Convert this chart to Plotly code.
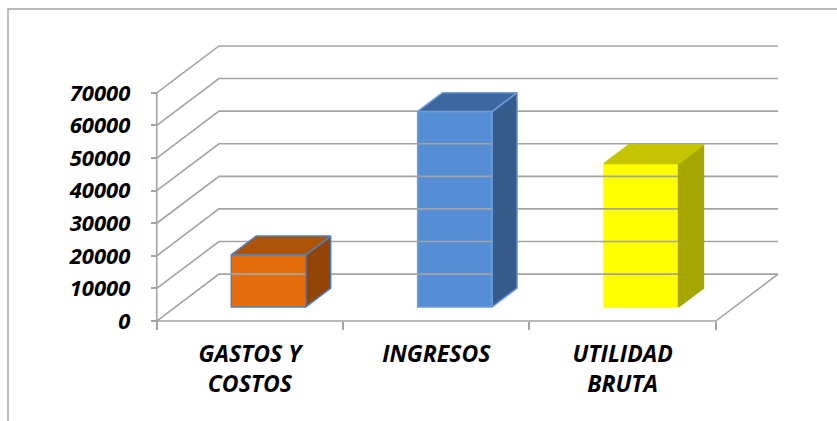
import plotly.graph_objects as go

# ---- data ----
categories = ["GASTOS Y<br>COSTOS", "INGRESOS", "UTILIDAD<br>BRUTA"]
values = [16000, 60000, 44000]
y_ticks = [0, 10000, 20000, 30000, 40000, 50000, 60000, 70000]
y_tick_labels = [str(v) for v in y_ticks]

front_colors = ["#E46C0A", "#558ED5", "#FFFF00"]
top_colors = ["#AD5307", "#3C689F", "#C4C400"]
side_colors = ["#924405", "#345B8A", "#A6A600"]
edge_colors = ["#4F81BD", "#6C9BD9", "#FFFF00"]

# ---- oblique projection (depth offset in data units) ----
DX = 0.334      # horizontal depth offset in category units
DY = 14400      # vertical depth offset in value units
F1, F2 = 0.3, 0.7   # bar front / back depth fraction
HW = 0.2            # half bar width (category units)
GRID = "#A3A3A3"
YMAX = 85000
YMIN = -600
XMIN, XMAX = -0.02, 3.35


def proj(x, y, f):
    return x + f * DX, y + f * DY


fig = go.Figure()

# gridlines: back wall + left wall diagonals
n = len(categories)
for v in y_ticks:
    x0, y0 = proj(0, v, 1)
    x1, y1 = proj(n, v, 1)
    fig.add_trace(go.Scatter(x=[0, x0, x1], y=[v, y0, y1], mode="lines",
                             line=dict(color=GRID, width=1.6), hoverinfo="skip", showlegend=False))
# front y axis line
fig.add_trace(go.Scatter(x=[0, 0], y=[0, y_ticks[-1]], mode="lines",
                         line=dict(color=GRID, width=1.6), hoverinfo="skip", showlegend=False))
# floor front edge and right diagonal
bx, by = proj(n, 0, 1)
fig.add_trace(go.Scatter(x=[0, n, bx], y=[0, 0, by], mode="lines",
                         line=dict(color=GRID, width=1.6), hoverinfo="skip", showlegend=False))

# bars: front face
centers = [i + 0.5 for i in range(n)]
fig.add_trace(go.Bar(
    x=[c + F1 * DX for c in centers], y=values, base=[F1 * DY] * n, width=2 * HW,
    marker=dict(color=front_colors, line=dict(color=edge_colors, width=1.5)),
    hoverinfo="skip", showlegend=False))

# bars: top and side faces
for c, v, tc, sc, ec in zip(centers, values, top_colors, side_colors, edge_colors):
    top = [proj(c - HW, v, F1), proj(c + HW, v, F1), proj(c + HW, v, F2), proj(c - HW, v, F2)]
    side = [proj(c + HW, 0, F1), proj(c + HW, v, F1), proj(c + HW, v, F2), proj(c + HW, 0, F2)]
    for pts, col in ((side, sc), (top, tc)):
        xs = [p[0] for p in pts] + [pts[0][0]]
        ys = [p[1] for p in pts] + [pts[0][1]]
        fig.add_trace(go.Scatter(x=xs, y=ys, mode="lines", fill="toself", fillcolor=col,
                                 line=dict(color=ec if ec != "#FFFF00" else col, width=1.5),
                                 hoverinfo="skip", showlegend=False))

font_y = dict(family="Open Sans", size=22, color="#000000", weight="bold", style="italic")
font_x = dict(family="Open Sans", size=23, color="#000000", weight="bold", style="italic")

fig.update_layout(
    width=837, height=421,
    margin=dict(l=153, r=56, t=44, b=98),
    paper_bgcolor="white", plot_bgcolor="white",
    xaxis=dict(range=[XMIN, XMAX], showgrid=False, zeroline=False, showline=False,
               tickmode="array", tickvals=centers, ticktext=categories, ticks="",
               tickfont=font_x, ticklabelstandoff=17,
               anchor="free", position=(0 - YMIN) / (YMAX - YMIN),
               minor=dict(tickmode="array", tickvals=list(range(n + 1)), ticks="outside",
                          ticklen=8, tickwidth=1.6, tickcolor=GRID, showgrid=False)),
    yaxis=dict(range=[YMIN, YMAX], showgrid=False, zeroline=False, showline=False,
               tickmode="array", tickvals=y_ticks, ticktext=y_tick_labels,
               ticks="outside", ticklen=6, tickwidth=1.6, tickcolor=GRID,
               ticklabelstandoff=16, tickfont=font_y,
               anchor="free", position=(0 - XMIN) / (XMAX - XMIN)),
    shapes=[dict(type="rect", xref="paper", yref="paper",
                 x0=(8 - 153) / 628, x1=(845 - 153) / 628,
                 y0=(323 - 430) / 279, y1=(323 - 9) / 279,
                 line=dict(color="#A6A6A6", width=1.5), layer="below")],
)

fig.write_html("out.html", config={"displayModeBar": False},
               post_script="document.body.style.margin='0';document.body.style.overflow='hidden';")
